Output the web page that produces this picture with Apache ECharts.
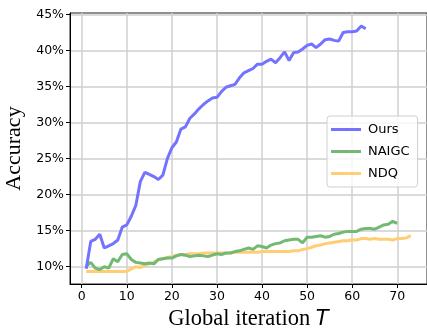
<!DOCTYPE html>
<html><head><meta charset="utf-8">
<script src="https://cdn.jsdelivr.net/npm/echarts@6/dist/echarts.min.js"></script>
<style>html,body{margin:0;padding:0;background:#fff}#c{width:427px;height:329px}</style>
</head><body><div id="c"></div>
<script>
const seriesNames = ["Ours", "NAIGC", "NDQ"];
const oursValues = [9.7,13.5,13.8,14.5,12.6,12.9,13.2,13.7,15.5,15.8,17.0,18.5,21.8,23.1,22.8,22.5,22.1,22.7,25.0,26.5,
27.3,29.1,29.4,30.6,31.2,31.9,32.5,33.0,33.4,33.5,34.3,34.9,35.1,35.3,36.2,36.9,37.2,37.5,38.1,38.1,
38.5,38.8,38.3,39.0,39.8,38.6,39.7,39.8,40.2,40.7,40.9,40.4,40.9,41.5,41.6,41.4,41.3,42.5,42.6,42.6,
42.7,43.4,43.0];
const naigcValues = [10.1,10.6,9.8,9.6,10.0,9.8,11.1,10.7,11.7,11.8,11.0,10.6,10.5,10.4,10.5,10.4,11.0,11.1,11.2,11.2,
11.5,11.7,11.6,11.4,11.5,11.6,11.5,11.4,11.6,11.8,11.7,11.9,11.9,12.1,12.2,12.4,12.6,12.4,12.9,12.8,
12.6,13.0,13.2,13.3,13.6,13.7,13.8,13.8,13.3,14.1,14.1,14.2,14.3,14.1,14.2,14.5,14.6,14.8,14.9,14.9,
14.9,15.2,15.3,15.3,15.2,15.5,15.8,15.9,16.3,16.0];
const ndqValues = [9.35,9.35,9.35,9.35,9.35,9.35,9.35,9.35,9.35,9.35,9.7,10.0,9.9,10.2,10.4,10.6,11.0,11.1,11.3,11.4,
11.6,11.7,11.7,11.8,11.8,11.8,11.9,11.9,11.9,11.9,11.9,11.9,11.9,12.0,12.0,12.0,12.0,12.0,12.0,12.1,
12.1,12.1,12.1,12.1,12.1,12.1,12.2,12.2,12.4,12.5,12.7,12.9,13.0,13.2,13.3,13.4,13.5,13.6,13.6,13.7,
13.7,13.9,13.9,13.8,13.9,13.8,13.8,13.8,13.7,13.9,13.9,14.0,14.3];
const xTicks = [0,10,20,30,40,50,60,70];
const yTicks = [10,15,20,25,30,35,40,45];

const colors = ["rgb(115,115,255)", "rgb(115,185,115)", "rgb(255,205,115)"];
const allValues = [oursValues, naigcValues, ndqValues];
function toPairs(vals){ return vals.map((v,i)=>[i+1, v]); }

const chart = echarts.init(document.getElementById('c'), null, {renderer:'canvas'});
const axisFont = {fontFamily:'DejaVu Sans', fontSize:12.5, color:'#000'};
chart.setOption({
  animation:false,
  backgroundColor:'#fff',
  grid:{left:70, right:0, top:13, bottom:45, show:true, borderColor:'#222', borderWidth:1,
        outerBoundsMode:'none', containLabel:false},
  xAxis:{
    type:'value', min:-2.6, max:76.6,
    axisLine:{show:true, onZero:false, lineStyle:{color:'#000', width:1}},
    axisTick:{show:true, customValues:xTicks, length:4, lineStyle:{color:'#000'}},
    axisLabel:Object.assign({customValues:xTicks, margin:6}, axisFont),
    splitLine:{show:true, lineStyle:{color:'#cfcfcf', width:1.5}},
    name:'{a|Global iteration }{b|T}', nameLocation:'middle', nameGap:20,
    nameTextStyle:{rich:{a:{fontFamily:'Liberation Serif', fontSize:22.5, color:'#000'},
                         b:{fontFamily:'DejaVu Sans', fontStyle:'italic', fontSize:21, color:'#000'}}}
  },
  yAxis:{
    type:'value', min:7.6, max:45.2,
    axisLine:{show:true, onZero:false, lineStyle:{color:'#000', width:1}},
    axisTick:{show:true, customValues:yTicks, length:4, lineStyle:{color:'#000'}},
    axisLabel:Object.assign({customValues:yTicks, margin:6, formatter:v=>v+'%'}, axisFont),
    splitLine:{show:true, lineStyle:{color:'#cfcfcf', width:1.5}},
    name:'Accuracy', nameLocation:'middle', nameGap:44,
    nameTextStyle:{fontFamily:'Liberation Serif', fontSize:22, color:'#000'}
  },
  legend:{
    orient:'vertical', left:327, top:116, width:93,
    data:seriesNames,
    itemWidth:30, itemHeight:3, itemGap:9, icon:'rect',
    padding:[7,8,7,4],
    backgroundColor:'rgba(255,255,255,0.8)', borderColor:'#d0d0d0', borderWidth:1, borderRadius:3,
    textStyle:{fontFamily:'DejaVu Sans', fontSize:13, color:'#000', padding:[0,0,0,2]}
  },
  series: seriesNames.map((n,k)=>({
    name:n, type:'line', data:toPairs(allValues[k]), showSymbol:false, symbol:'none',
    color:colors[k],
    lineStyle:{width:3, color:colors[k]}, z:10-k
  }))
});
</script></body></html>
